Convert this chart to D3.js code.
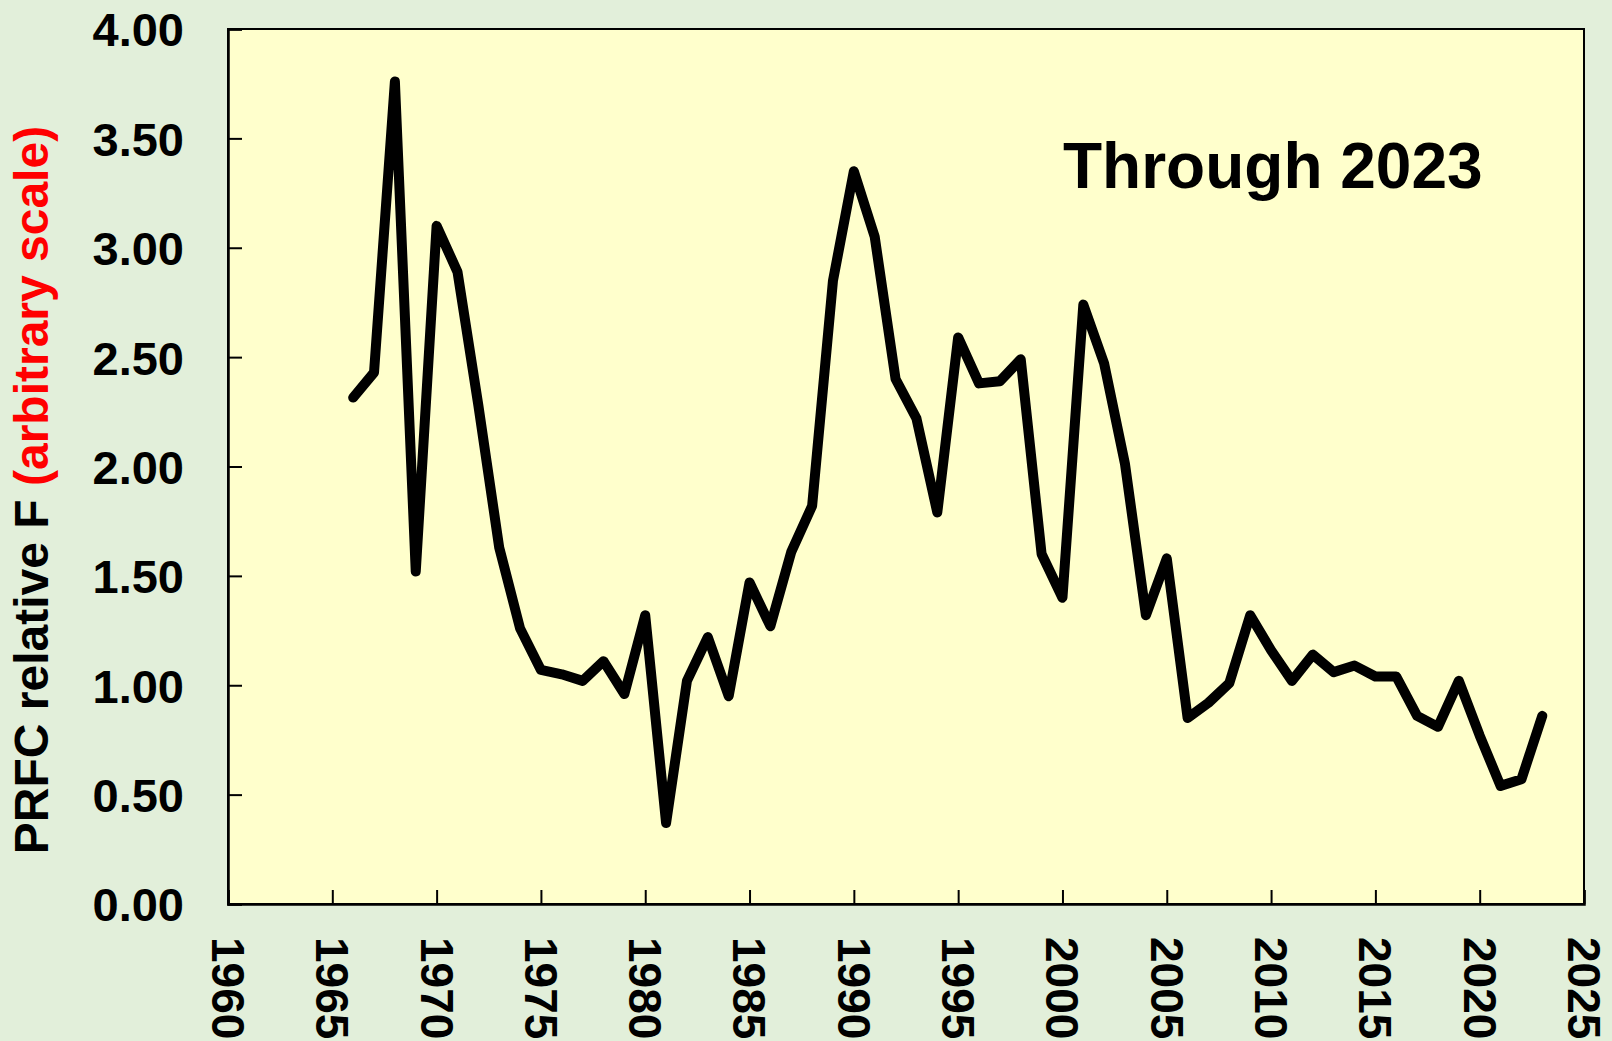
<!DOCTYPE html>
<html>
<head>
<meta charset="utf-8">
<script src="https://cdn.jsdelivr.net/npm/d3@7"></script>
<style>
    html,body{margin:0;padding:0;background:#E2EFDA;}
    .canvas{width:1612px;height:1041px;}
    text{font-family:"Liberation Sans",Arial,sans-serif;font-weight:bold;}
</style>
</head>
<body>
<div class="canvas" id="canvas"></div>
<script>
//Data
var years = [1966,1967,1968,1969,1970,1971,1972,1973,1974,1975,1976,1977,1978,1979,
    1980,1981,1982,1983,1984,1985,1986,1987,1988,1989,1990,1991,1992,1993,1994,1995,
    1996,1997,1998,1999,2000,2001,2002,2003,2004,2005,2006,2007,2008,2009,2010,2011,
    2012,2013,2014,2015,2016,2017,2018,2019,2020,2021,2022,2023];
var prfcF = [2.315,2.43,3.76,1.52,3.10,2.89,2.28,1.63,1.26,1.07,1.05,1.02,1.11,0.96,
    1.32,0.37,1.02,1.22,0.95,1.47,1.27,1.61,1.82,2.85,3.35,3.05,2.40,2.22,1.79,2.59,
    2.38,2.39,2.49,1.60,1.40,2.74,2.47,2.01,1.32,1.58,0.85,0.92,1.01,1.32,1.16,1.02,
    1.14,1.06,1.09,1.04,1.04,0.86,0.81,1.02,0.77,0.54,0.57,0.86];
var xTicks = [1960,1965,1970,1975,1980,1985,1990,1995,2000,2005,2010,2015,2020,2025];
var yTicks = [0,0.5,1,1.5,2,2.5,3,3.5,4];

var rows = years.map(function(y,i){return {year:y, f:prfcF[i]};});

//Margin convention
var m = {t:29,r:28,b:137,l:228};
var outerWidth = 1612, outerHeight = 1041;
var w = outerWidth - m.l - m.r,
    h = outerHeight - m.t - m.b;

var svg = d3.select('.canvas')
    .append('svg')
    .attr('width',outerWidth)
    .attr('height',outerHeight);

svg.append('rect')
    .attr('width',outerWidth)
    .attr('height',outerHeight)
    .attr('fill','#E2EFDA');

var plot = svg.append('g')
    .attr('transform','translate(' + m.l + ',' + m.t + ')');

var scaleX = d3.scaleLinear()
    .domain([1960,2025])
    .range([0,w]);
var scaleY = d3.scaleLinear()
    .domain([0,4])
    .range([h,0]);

//Plot area
plot.append('rect')
    .attr('width',w)
    .attr('height',h)
    .attr('fill','#FFFFCC')
    .attr('stroke','#000')
    .attr('stroke-width',2);

//Axes, ticks inside
var axisX = d3.axisBottom()
    .scale(scaleX)
    .tickValues(xTicks)
    .tickSize(-14)
    .tickFormat(d3.format('d'));
var axisY = d3.axisLeft()
    .scale(scaleY)
    .tickValues(yTicks)
    .tickSize(-14)
    .tickFormat(d3.format('.2f'));

var gx = plot.append('g').attr('class','axis axis-x')
    .attr('transform','translate(0,'+h+')')
    .call(axisX);
gx.select('.domain').attr('stroke','#000').attr('stroke-width',2.5);
gx.selectAll('.tick line').attr('stroke','#000').attr('stroke-width',2);
gx.selectAll('.tick text')
    .attr('font-size',46)
    .attr('fill','#000')
    .attr('text-anchor','start')
    .attr('transform','rotate(90)')
    .attr('x',33)
    .attr('y',0)
    .attr('dy','0.36em');

var gy = plot.append('g').attr('class','axis axis-y').call(axisY);
gy.select('.domain').attr('stroke','#000').attr('stroke-width',2.5);
gy.selectAll('.tick line').attr('stroke','#000').attr('stroke-width',2);
gy.selectAll('.tick text')
    .attr('font-size',47)
    .attr('fill','#000')
    .attr('x',-44)
    .attr('dy','0.36em');

//Series line
var line = d3.line()
    .x(function(d){return scaleX(d.year)})
    .y(function(d){return scaleY(d.f)});

plot.append('path')
    .datum(rows)
    .attr('d',line)
    .attr('fill','none')
    .attr('stroke','#000')
    .attr('stroke-width',10)
    .attr('stroke-linejoin','round')
    .attr('stroke-linecap','round');

//Annotation
plot.append('text')
    .attr('x',1063 - m.l)
    .attr('y',188 - m.t)
    .attr('font-size',64)
    .attr('fill','#000')
    .text('Through 2023');

//Y axis title, two colours
var title = svg.append('text')
    .attr('transform','translate(48,490) rotate(-90)')
    .attr('text-anchor','middle')
    .attr('font-size',48);
title.append('tspan').attr('fill','#000').text('PRFC relative F ');
title.append('tspan').attr('fill','#FF0000').text('(arbitrary scale)');
</script>
</body>
</html>
